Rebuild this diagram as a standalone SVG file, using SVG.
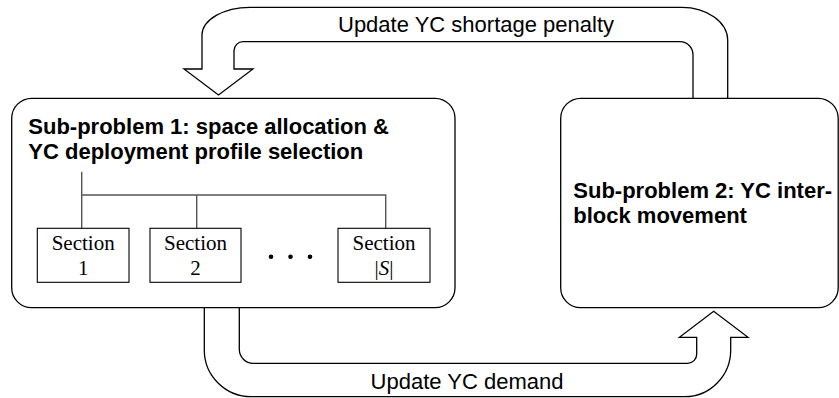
<svg xmlns="http://www.w3.org/2000/svg" width="839" height="398" viewBox="0 0 839 398">
<style>
.box{fill:#fff;stroke:#000;stroke-width:1.3}
.arrow{fill:#fff;stroke:#000;stroke-width:1.3;stroke-linejoin:miter}
.sec{fill:#fff;stroke:#000;stroke-width:1.1}
.tree{fill:none;stroke:#555;stroke-width:1.4}
.title{font-family:"Liberation Sans",Arial,sans-serif;font-weight:bold;font-size:22px;fill:#000}
.lbl{font-family:"Liberation Sans",Arial,sans-serif;font-size:22px;fill:#000}
.st{font-family:"Liberation Serif","Times New Roman",serif;font-size:21px;fill:#000;text-anchor:middle}
</style>
<rect width="839" height="398" fill="#fff"/>
<g id="connectors">
<path class="arrow" d="M693,98 V54.7 A13,13 0 0 0 680,41.7 H243 A9,9 0 0 0 234,50.7 V69 H253 L218.5,95 L184,69 H202 V35 A48,28 0 0 1 250,7.3 H681.7 A46,33 0 0 1 727.7,40.3 V98"/>
<path class="arrow" d="M239.3,307.7 V349.3 A14,14 0 0 0 253.3,363.3 H687.7 A9,9 0 0 0 696.7,354.3 V337.3 H679.4 L713.7,311.2 L748,337.3 H730.7 V350 A46,46.7 0 0 1 684.7,396.7 H251.3 A47,46.7 0 0 1 204.3,350 V307.7"/>
<text class="lbl" x="476" y="32" text-anchor="middle">Update YC shortage penalty</text>
<text class="lbl" x="467" y="389" text-anchor="middle">Update YC demand</text>
</g>
<g id="subproblem1">
<rect class="box" x="11.7" y="98.3" width="443.3" height="209.4" rx="20" ry="20"/>
<text class="title" x="28.3" y="134">Sub-problem 1: space allocation &amp;</text>
<text class="title" x="28.3" y="159.3">YC deployment profile selection</text>
<path class="tree" d="M81.7,171.7 V228.3 M81.7,195 H385.7 V228.3 M196.7,195 V228.3"/>
<circle cx="271" cy="256.7" r="2.3" fill="#000"/>
<circle cx="290.5" cy="256.7" r="2.3" fill="#000"/>
<circle cx="310" cy="256.7" r="2.3" fill="#000"/>
</g>
<g id="section1">
<rect class="sec" x="37.3" y="228.3" width="91.7" height="54"/>
<text class="st" x="83.2" y="250">Section</text>
<text class="st" x="83.2" y="275">1</text>
</g>
<g id="section2">
<rect class="sec" x="150" y="228.3" width="91" height="54"/>
<text class="st" x="195.5" y="250">Section</text>
<text class="st" x="195.5" y="275">2</text>
</g>
<g id="sectionS">
<rect class="sec" x="338" y="228.3" width="92" height="54"/>
<text class="st" x="384" y="250">Section</text>
<text class="st" x="384" y="275">|<tspan font-style="italic">S</tspan>|</text>
</g>
<g id="subproblem2">
<rect class="box" x="560.7" y="98.3" width="277.5" height="209.4" rx="20" ry="20"/>
<text class="title" x="573.3" y="198.3">Sub-problem 2: YC inter-</text>
<text class="title" x="573.3" y="223.3">block movement</text>
</g>
</svg>
